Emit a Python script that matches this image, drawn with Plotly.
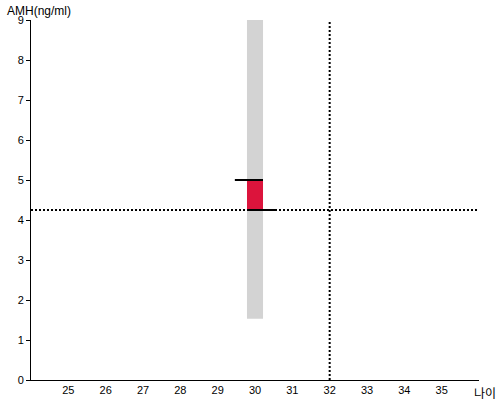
import plotly.graph_objects as go

# Data
age_center = [30]
band_low = [1.53]
band_high = [9.0]
amh_value = 4.25
amh_upper = 5.0
ref_age = 32
x_ticks = [25, 26, 27, 28, 29, 30, 31, 32, 33, 34, 35]
y_ticks = [0, 1, 2, 3, 4, 5, 6, 7, 8, 9]
bar_width = 0.43
upper_seg_x = [29.46, 30.215]
lower_seg_x = [29.785, 30.54]

fig = go.Figure()

# gray range band
fig.add_trace(go.Bar(
    x=age_center, y=[band_high[0] - band_low[0]], base=band_low,
    width=bar_width, marker=dict(color="#d3d3d3", line=dict(width=0)),
    hoverinfo="skip", showlegend=False))

# red box
fig.add_trace(go.Bar(
    x=age_center, y=[amh_upper - amh_value], base=[amh_value],
    width=bar_width, marker=dict(color="#dc143c", line=dict(width=0)),
    hoverinfo="skip", showlegend=False))

# dotted reference lines
fig.add_trace(go.Scatter(
    x=[24, 36], y=[amh_value, amh_value], mode="lines",
    line=dict(color="black", width=2, dash="2px,2px"),
    hoverinfo="skip", showlegend=False))
fig.add_trace(go.Scatter(
    x=[ref_age, ref_age], y=[0, 8.95], mode="lines",
    line=dict(color="black", width=2, dash="2px,2px"),
    hoverinfo="skip", showlegend=False))

# black solid segments
fig.add_trace(go.Scatter(
    x=upper_seg_x, y=[amh_upper, amh_upper], mode="lines",
    line=dict(color="black", width=2), hoverinfo="skip", showlegend=False))
fig.add_trace(go.Scatter(
    x=lower_seg_x, y=[amh_value, amh_value], mode="lines",
    line=dict(color="black", width=2), hoverinfo="skip", showlegend=False))

font_family = "Liberation Sans, Arial, sans-serif"

fig.update_layout(
    width=500, height=400,
    margin=dict(l=31, r=21, t=20, b=20, autoexpand=False),
    plot_bgcolor="white", paper_bgcolor="white",
    font=dict(family=font_family, size=11, color="black"),
    barmode="overlay",
    xaxis=dict(
        range=[24, 36], tickvals=x_ticks, ticktext=[str(v) for v in x_ticks],
        showgrid=False, zeroline=False, showline=True, linecolor="black",
        linewidth=1, ticks="", tickfont=dict(size=11, color="black"),
        automargin=False,
    ),
    yaxis=dict(
        range=[0, 9], tickvals=y_ticks, showgrid=False, zeroline=False,
        showline=True, linecolor="black", linewidth=1, ticks="outside",
        ticklen=4, tickcolor="black", tickfont=dict(size=11, color="black"),
        automargin=False,
    ),
    annotations=[
        dict(text="AMH(ng/ml)", xref="paper", yref="paper", x=0, y=1.0,
             xanchor="left", yanchor="bottom", xshift=-26, yshift=0, showarrow=False,
             font=dict(size=12, color="black", family=font_family)),
        dict(text="나이", xref="paper", yref="paper", x=1.0, y=0,
             xanchor="left", yanchor="top", xshift=-7, yshift=-2, showarrow=False,
             font=dict(size=12, color="black", family="Noto Sans CJK KR")),
    ],
)

fig.write_html("out.html", config={"displayModeBar": False},
               post_script="document.body.style.margin='0';")
